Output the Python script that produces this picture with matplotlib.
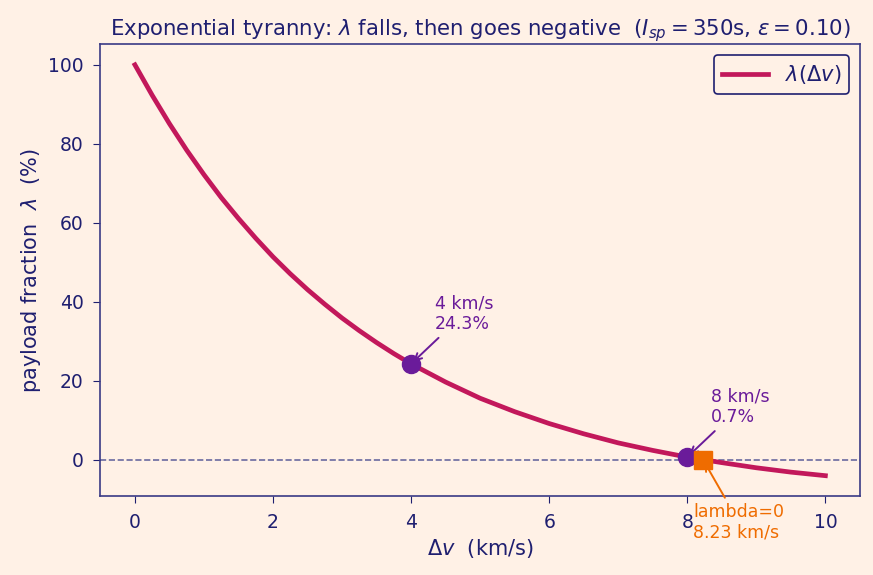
import matplotlib.pyplot as plt

# payload fraction (percent) vs delta-v (km/s)
dv = [0, 0.25, 0.5, 0.75, 1.0, 1.25, 1.5, 1.75, 2.0, 2.25, 2.5, 2.75, 3.0,
      3.25, 3.5, 3.75, 4.0, 4.5, 5.0, 5.5, 6.0, 6.5, 7.0, 7.5, 8.0, 8.5,
      9.0, 9.5, 10.0]
lam = [100.0, 92.3, 85.1, 78.4, 72.2, 66.4, 61.1, 56.1, 51.4, 47.1, 43.1,
       39.4, 35.9, 32.7, 29.7, 26.9, 24.3, 19.7, 15.6, 12.2, 9.2, 6.6, 4.3,
       2.4, 0.7, -0.7, -2.0, -3.1, -4.0]

marks_dv = [4, 8]
marks_lam = [24.3, 0.7]
zero_dv = 8.23

bg = '#fff1e6'
navy = '#1f1f70'
crimson = '#c2185b'
purple = '#6a1b9a'
orange = '#ef6c00'

fig, ax = plt.subplots(figsize=(8.73, 5.75), dpi=100)
fig.patch.set_facecolor(bg)
ax.set_facecolor(bg)

ax.plot(dv, lam, color=crimson, lw=3.4, label=r'$\lambda(\Delta v)$', zorder=3)
ax.axhline(0, color='#6a6aa0', lw=1.2, ls='--', zorder=1)

ax.plot(marks_dv, marks_lam, 'o', color=purple, ms=13, zorder=4)
for x, y in zip(marks_dv, marks_lam):
    ax.annotate(f'{x} km/s\n{y}%', xy=(x, y), xytext=(17, 25),
                textcoords='offset points', color=purple, fontsize=12.5,
                arrowprops=dict(arrowstyle='->', color=purple, lw=1.4))

ax.plot([zero_dv], [0], 's', color=orange, ms=13, zorder=5)
ax.annotate(f'lambda=0\n{zero_dv} km/s', xy=(zero_dv, 0), xytext=(-7, -31),
            textcoords='offset points', color=orange, fontsize=12.5, va='top',
            arrowprops=dict(arrowstyle='->', color=orange, lw=1.4))

ax.set_title(r'Exponential tyranny: $\lambda$ falls, then goes negative  '
             r'($I_{sp}=350$s, $\varepsilon=0.10$)', color=navy, fontsize=15.3)
ax.set_xlabel(r'$\Delta v$  (km/s)', color=navy, fontsize=15)
ax.set_ylabel(r'payload fraction  $\lambda$  (%)', color=navy, fontsize=15)
ax.tick_params(colors=navy, labelsize=13.5, length=5, pad=7)
for s in ax.spines.values():
    s.set_color('#3a3a85')
    s.set_linewidth(1.2)

leg = ax.legend(loc='upper right', fontsize=15, facecolor=bg,
                edgecolor=navy, handlelength=2.2)
leg.get_frame().set_linewidth(1.2)
leg.get_frame().set_alpha(1)
for t in leg.get_texts():
    t.set_color(navy)

fig.subplots_adjust(left=0.115, right=0.985, top=0.923, bottom=0.137)
fig.savefig('out.png', dpi=100, facecolor=bg)
